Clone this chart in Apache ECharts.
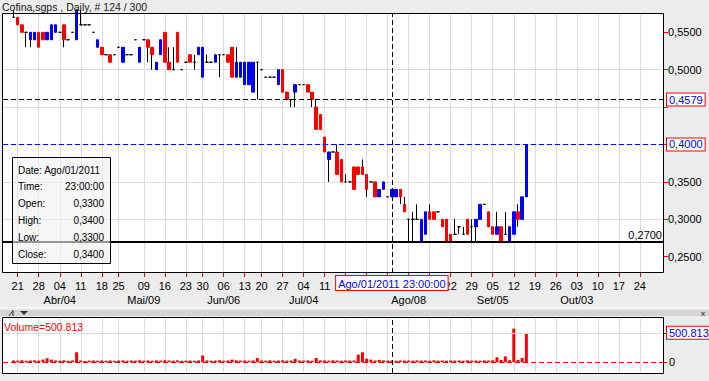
<!DOCTYPE html>
<html><head><meta charset="utf-8">
<script src="https://cdn.jsdelivr.net/npm/echarts@6/dist/echarts.min.js"></script>
<style>html,body{margin:0;padding:0;background:#ececec;overflow:hidden}#c{width:709px;height:381px}</style>
</head><body><div id="c"></div>
<script>
// ---------- data ----------
const titleText = 'Cofina,sgps , Daily, # 124 / 300';
const slotCount = 157;          // trading-day slots on the time axis (incl. empty future days)
const firstSlot = 2;            // slot of the first candle
const opens = [
 0.57,0.57,0.56,0.55,0.54,0.54,0.55,0.55,0.54,0.54,
 0.55,0.55,0.56,0.54,0.55,0.54,0.56,0.56,0.56,0.55,
 0.53,0.53,0.52,0.52,0.52,0.53,0.51,0.52,0.52,0.54,
 0.51,0.54,0.54,0.53,0.50,0.52,0.55,0.51,0.50,0.55,
 0.50,0.51,0.52,0.51,0.52,0.49,0.51,0.51,0.51,0.52,
 0.52,0.52,0.53,0.49,0.49,0.48,0.48,0.47,0.51,0.50,
 0.49,0.49,0.49,0.48,0.50,0.47,0.46,0.47,0.48,0.48,
 0.48,0.47,0.45,0.44,0.41,0.38,0.39,0.39,0.38,0.35,
 0.35,0.37,0.37,0.37,0.36,0.35,0.35,0.33,0.34,0.33,
 0.33,0.33,0.34,0.32,0.30,0.30,0.30,0.27,0.28,0.31,
 0.31,0.31,0.30,0.30,0.28,0.28,0.29,0.28,0.30,0.29,
 0.29,0.30,0.32,0.31,0.29,0.28,0.29,0.28,0.27,0.28,
 0.31,0.30,0.33];
const closes = [
 0.57,0.56,0.55,0.55,0.55,0.55,0.53,0.54,0.55,0.56,
 0.56,0.55,0.54,0.54,0.55,0.58,0.56,0.56,0.56,0.55,
 0.54,0.52,0.52,0.51,0.52,0.53,0.53,0.52,0.52,0.54,
 0.53,0.54,0.53,0.52,0.51,0.54,0.51,0.50,0.50,0.51,
 0.50,0.51,0.51,0.51,0.53,0.53,0.51,0.51,0.52,0.52,
 0.52,0.51,0.49,0.51,0.51,0.51,0.51,0.51,0.51,0.50,
 0.49,0.49,0.49,0.50,0.47,0.46,0.46,0.48,0.48,0.48,
 0.47,0.46,0.42,0.42,0.39,0.39,0.39,0.36,0.35,0.35,
 0.35,0.34,0.36,0.36,0.34,0.35,0.33,0.34,0.35,0.33,
 0.34,0.34,0.33,0.31,0.30,0.30,0.30,0.30,0.31,0.30,
 0.30,0.31,0.29,0.27,0.27,0.28,0.29,0.28,0.28,0.29,
 0.30,0.32,0.32,0.29,0.28,0.29,0.27,0.28,0.29,0.31,
 0.30,0.33,0.40];
const lows = [
 0.57,0.56,0.55,0.53,0.53,0.54,0.53,0.54,0.54,0.54,
 0.55,0.55,0.53,0.54,0.55,0.54,0.56,0.56,0.56,0.55,
 0.53,0.52,0.52,0.51,0.52,0.53,0.51,0.52,0.52,0.54,
 0.51,0.54,0.51,0.50,0.50,0.52,0.51,0.50,0.50,0.51,
 0.50,0.51,0.51,0.50,0.52,0.49,0.51,0.51,0.51,0.49,
 0.52,0.51,0.49,0.49,0.49,0.48,0.48,0.47,0.46,0.50,
 0.49,0.49,0.49,0.48,0.47,0.46,0.45,0.45,0.48,0.48,
 0.47,0.45,0.42,0.42,0.39,0.35,0.39,0.36,0.35,0.35,
 0.35,0.34,0.36,0.36,0.33,0.35,0.33,0.33,0.34,0.33,
 0.33,0.33,0.32,0.31,0.27,0.27,0.30,0.27,0.28,0.30,
 0.30,0.31,0.29,0.27,0.27,0.28,0.28,0.28,0.28,0.27,
 0.27,0.30,0.32,0.29,0.28,0.28,0.27,0.28,0.27,0.28,
 0.29,0.30,0.33];
const highs = [
 0.58,0.57,0.56,0.55,0.55,0.55,0.55,0.55,0.55,0.56,
 0.56,0.55,0.56,0.54,0.55,0.58,0.58,0.56,0.56,0.55,
 0.54,0.53,0.52,0.52,0.52,0.53,0.53,0.52,0.52,0.54,
 0.53,0.54,0.54,0.53,0.51,0.54,0.55,0.53,0.53,0.55,
 0.50,0.51,0.52,0.52,0.53,0.53,0.52,0.51,0.52,0.52,
 0.52,0.52,0.53,0.53,0.51,0.51,0.51,0.51,0.51,0.50,
 0.49,0.49,0.49,0.50,0.50,0.47,0.46,0.48,0.48,0.48,
 0.48,0.47,0.46,0.44,0.41,0.39,0.39,0.40,0.38,0.36,
 0.35,0.37,0.37,0.38,0.36,0.35,0.35,0.34,0.35,0.33,
 0.34,0.34,0.34,0.33,0.30,0.31,0.32,0.30,0.31,0.32,
 0.31,0.31,0.30,0.30,0.28,0.30,0.29,0.29,0.30,0.30,
 0.30,0.32,0.32,0.31,0.29,0.31,0.29,0.31,0.29,0.31,
 0.32,0.33,0.40];
const volumes = [
 30000,28000,34000,26000,30000,32000,28000,45000,68000,45000,
 30000,27000,33000,25000,30000,170000,30000,22000,28000,30000,
 26000,31000,27000,30000,25000,29000,32000,26000,30000,28000,
 33000,27000,30000,26000,31000,29000,34000,30000,27000,32000,
 25000,28000,30000,26000,31000,115000,30000,27000,29000,33000,
 26000,30000,45000,32000,28000,30000,27000,31000,74000,30000,
 28000,33000,27000,30000,32000,28000,30000,57000,30000,28000,
 31000,27000,74000,32000,30000,28000,33000,30000,27000,31000,
 28000,30000,130000,170000,60000,45000,30000,40000,32000,28000,
 30000,26000,31000,28000,30000,27000,32000,29000,30000,26000,
 33000,28000,30000,27000,31000,29000,30000,26000,32000,28000,
 30000,27000,31000,29000,33000,85000,40000,100000,35000,573000,
 40000,74000,500813];
const priceTicks = [0.25, 0.30, 0.35, 0.40, 0.45, 0.50, 0.55];
// the 0,4500 label lies under the cursor price box and is not shown
const priceLabels = [0.25, 0.30, 0.35, 0.40, 0.50, 0.55];
const tickSlots = [3,8,13,18,23,27,33,38,43,47,52,57,61,66,71,76,81,86,91,96,101,106,111,116,121,126,131,136,141,146,151];
// labels of weeks 18/25 Jul and 01/08/15 Aug lie under the cursor date box and are not shown
const dayLabels = ['21','28','04','11','18','25','09','16','23','30','06','13','20','27','04','11','','','','','','22','29','05','12','19','26','03','10','17','24'];
const monthSlots = [13,33,52,71,96,116,136];
const monthLabels = ['Abr/04','Mai/09','Jun/06','Jul/04','Ago/08','Set/05','Out/03'];
const crossSlot = 92;
const crossDateText = 'Ago/01/2011 23:00:00';
const crossPrice = 0.4579;
const lastPrice = 0.40;
const supportPrice = 0.27;
const lastVolume = 500813;
const infoNames = ['Time:', 'Open:', 'High:', 'Low:', 'Close:'];
const infoDate = 'Date: Ago/01/2011';
const infoTime = '23:00:00';
const yMin = 0.2282, yMax = 0.5758;
const volMin = -183000, volMax = 770000;

// ---------- helpers ----------
const FONT = '"Liberation Sans", Arial, sans-serif';
const fmt4 = v => v.toFixed(4).replace('.', ',');
const fmtVol = v => String(v).replace(/\B(?=(\d{3})+(?!\d))/g, '.');
const categories = Array.from({length: slotCount}, (_, i) => String(i));
const tickSet = new Set(tickSlots);
const dayMap = {}; tickSlots.forEach((s, k) => { dayMap[s] = dayLabels[k]; });
const monthMap = {}; monthSlots.forEach((s, k) => { monthMap[s] = monthLabels[k]; });
const isTick = (i) => tickSet.has(i);
const slotOf = j => j + firstSlot;
const wickData = opens.map((o, j) => [slotOf(j), o, closes[j], lows[j], highs[j]]);
const bodyData = opens.map((o, j) => [slotOf(j), o, closes[j], Math.min(o, closes[j]), Math.max(o, closes[j])]);
const volData = volumes.map((v, j) => [slotOf(j), v]);
const crossIdx = crossSlot - firstSlot;
const infoValues = [infoTime, fmt4(opens[crossIdx]), fmt4(highs[crossIdx]), fmt4(lows[crossIdx]), fmt4(closes[crossIdx])];

const boxLabel = (text, extra) => Object.assign({
  show: true, formatter: text, color: '#0000ff', backgroundColor: '#ffffff',
  borderColor: '#ff0000', borderWidth: 1, padding: [1, 2, 0, 2],
  fontSize: 11, fontFamily: FONT, lineHeight: 11
}, extra || {});
const dash = [5, 3];

const gridCommon = {show: true, backgroundColor: '#ffffff', borderWidth: 0, containLabel: false, outerBoundsMode: 'none'};
const vSplit = {show: true, interval: isTick, alignWithLabel: true, lineStyle: {color: '#dcdcdc', width: 1}};

const infoX = 12, infoY = 157, rowH = 16.8;
const graphic = [
  {type: 'text', x: 2, y: 1, z: 100, style: {text: titleText, fill: '#1a1a1a', font: '10.5px ' + FONT, align: 'left', verticalAlign: 'top'}},
  {type: 'rect', z: 100, shape: {x: 2.5, y: 13.5, width: 661, height: 259}, style: {fill: 'none', stroke: '#000', lineWidth: 1}},
  {type: 'rect', z: 100, shape: {x: 2.5, y: 317.5, width: 661, height: 56}, style: {fill: 'none', stroke: '#000', lineWidth: 1}},
  {type: 'rect', z: 90, shape: {x: 0, y: 307, width: 709, height: 1}, style: {fill: '#fafafa'}},
  {type: 'rect', z: 90, shape: {x: 0, y: 310, width: 709, height: 6}, style: {fill: '#d4d4d4'}},
  {type: 'polyline', z: 91, shape: {points: [[9, 316], [13, 310.5], [13, 316]]}, style: {stroke: '#333', fill: 'none', lineWidth: 1}},
  {type: 'polygon', z: 91, shape: {points: [[20, 311], [28, 311], [24, 315]]}, style: {fill: '#333'}},
  {type: 'text', z: 91, x: 703, y: 313, style: {text: 'x', fill: '#555', font: 'bold 8px ' + FONT, align: 'center', verticalAlign: 'middle'}},
  {type: 'text', z: 100, x: 4, y: 327, style: {text: 'Volume=' + fmtVol(lastVolume), fill: '#ff0000', font: '10.5px ' + FONT, align: 'left', verticalAlign: 'middle'}},
  {type: 'rect', z: 110, shape: {x: infoX + 0.5, y: infoY + 0.5, width: 98, height: 106}, style: {fill: 'rgba(240,240,240,0.62)', stroke: '#000', lineWidth: 1}},
  {type: 'text', z: 111, x: 18, y: infoY + 13, style: {text: infoDate, fill: '#000', font: '10px ' + FONT, align: 'left', verticalAlign: 'middle'}}
];
infoNames.forEach((n, k) => {
  graphic.push({type: 'text', z: 111, x: 18, y: infoY + 13 + rowH * (k + 1), style: {text: n, fill: '#000', font: '10px ' + FONT, align: 'left', verticalAlign: 'middle'}});
  graphic.push({type: 'text', z: 111, x: 104, y: infoY + 13 + rowH * (k + 1), style: {text: infoValues[k], fill: '#000', font: '10px ' + FONT, align: 'right', verticalAlign: 'middle'}});
});

const option = {
  animation: false,
  backgroundColor: '#ececec',
  grid: [
    Object.assign({left: 3, top: 13, width: 660, height: 260}, gridCommon),
    Object.assign({left: 3, top: 317, width: 660, height: 56}, gridCommon)
  ],
  xAxis: [
    {type: 'category', gridIndex: 0, data: categories, boundaryGap: true, position: 'bottom',
     axisLine: {show: false},
     axisTick: {show: true, interval: isTick, alignWithLabel: true, length: 4, lineStyle: {color: '#ff0000'}},
     axisLabel: {show: true, interval: (i) => isTick(i) && dayMap[i] !== '', hideOverlap: false, margin: 7, color: '#000', fontSize: 11, fontFamily: FONT,
       formatter: (v) => dayMap[+v] || ''},
     splitLine: vSplit},
    {type: 'category', gridIndex: 0, data: categories, boundaryGap: true, position: 'bottom',
     axisLine: {show: false}, axisTick: {show: false}, splitLine: {show: false},
     axisLabel: {show: true, interval: (i) => monthMap[i] !== undefined, hideOverlap: false, margin: 21, color: '#000', fontSize: 11, fontFamily: FONT,
       formatter: (v) => monthMap[+v] || ''}},
    {type: 'category', gridIndex: 1, data: categories, boundaryGap: true, position: 'bottom',
     axisLine: {show: false}, axisTick: {show: false}, axisLabel: {show: false}, splitLine: vSplit}
  ],
  yAxis: [
    {type: 'value', gridIndex: 0, position: 'right', min: yMin, max: yMax, splitNumber: 7,
     axisLine: {show: false},
     axisTick: {show: true, length: 5, customValues: priceTicks, lineStyle: {color: '#ff0000'}},
     axisLabel: {show: true, customValues: priceLabels, margin: 5, color: '#000', fontSize: 11, fontFamily: FONT, formatter: fmt4},
     splitLine: {show: true, showMinLine: false, showMaxLine: false, lineStyle: {color: '#dcdcdc'}}},
    {type: 'value', gridIndex: 1, position: 'right', min: volMin, max: volMax,
     axisLine: {show: false},
     axisTick: {show: true, length: 4, customValues: [0, lastVolume], lineStyle: {color: '#ff0000'}},
     axisLabel: {show: false, customValues: [0, lastVolume]},
     splitLine: {show: false}}
  ],
  series: [
    {type: 'candlestick', name: 'wick', xAxisIndex: 0, yAxisIndex: 0, barWidth: 1,
     encode: {x: 0, y: [1, 2, 3, 4]}, data: wickData, silent: true,
     itemStyle: {color: '#000', color0: '#000', borderColor: '#000', borderColor0: '#000', borderColorDoji: '#000', borderWidth: 1}},
    {type: 'candlestick', name: 'body', xAxisIndex: 0, yAxisIndex: 0, barWidth: 3,
     encode: {x: 0, y: [1, 2, 3, 4]}, data: bodyData, silent: true,
     itemStyle: {color: '#0000ff', color0: '#ff0000', borderColor: '#0000ff', borderColor0: '#ff0000', borderColorDoji: '#000', borderWidth: 1},
     markLine: {
       symbol: 'none', silent: true, animation: false,
       data: [
         {yAxis: supportPrice, lineStyle: {color: '#000', type: 'solid', width: 2},
          label: {show: true, position: 'insideEndTop', formatter: fmt4(supportPrice), color: '#000', fontSize: 11, fontFamily: FONT, distance: 1}},
         {yAxis: crossPrice, lineStyle: {color: '#000', type: dash, width: 1},
          label: boxLabel(fmt4(crossPrice), {position: 'end', distance: 4})},
         {yAxis: lastPrice, lineStyle: {color: '#0000ff', type: dash, width: 1},
          label: boxLabel(fmt4(lastPrice), {position: 'end', distance: 4})},
         {xAxis: String(crossSlot), lineStyle: {color: '#000', type: dash, width: 1},
          label: boxLabel(crossDateText, {position: 'start', distance: 3, lineHeight: 13, padding: [1, 2, 0, 2]})}
       ]
     }},
    {type: 'bar', name: 'volume', xAxisIndex: 2, yAxisIndex: 1, barWidth: 3, z: 3,
     encode: {x: 0, y: 1}, data: volData, silent: true, itemStyle: {color: '#ff0000'}},
    {type: 'line', name: 'volume-levels', xAxisIndex: 2, yAxisIndex: 1, data: [], z: 2,
     markLine: {
       symbol: 'none', silent: true, animation: false,
       data: [
         {yAxis: lastVolume, lineStyle: {color: '#dcdcdc', type: 'solid', width: 1},
          label: boxLabel(fmtVol(lastVolume), {position: 'end', distance: 4})},
         {yAxis: 0, lineStyle: {color: '#ff0000', type: dash, width: 1},
          label: {show: true, position: 'end', formatter: '0', color: '#000', fontSize: 11, fontFamily: FONT, distance: 6}},
         {xAxis: String(crossSlot), lineStyle: {color: '#000', type: dash, width: 1}, label: {show: false}}
       ]
     }}
  ],
  graphic: graphic
};
const chart = echarts.init(document.getElementById('c'), null, {renderer: 'svg', width: 709, height: 381});
chart.setOption(option);
</script></body></html>
